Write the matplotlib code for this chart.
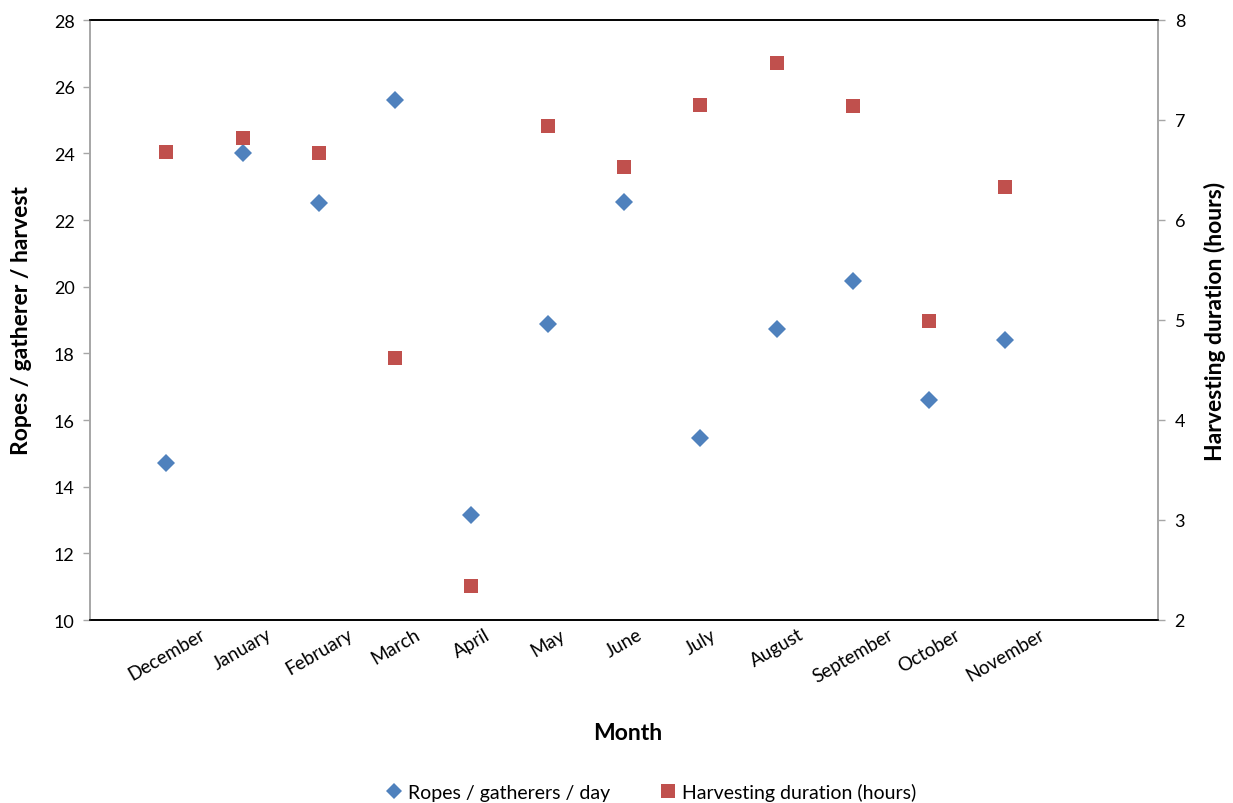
import numpy as np
import matplotlib.pyplot as plt
import matplotlib.transforms as mtransforms
from matplotlib.lines import Line2D

plt.rcParams['font.family'] = ['Lato', 'DejaVu Sans']

months = ['December', 'January', 'February', 'March', 'April', 'May',
          'June', 'July', 'August', 'September', 'October', 'November']
ropes_per_day = [14.7, 24.0, 22.5, 25.6, 13.15, 18.88,
                 22.55, 15.45, 18.73, 20.17, 16.6, 18.4]
harvest_hours = [6.68, 6.82, 6.67, 4.62, 2.34, 6.94,
                 6.53, 7.15, 7.57, 7.14, 4.99, 6.33]

BLUE = '#4F81BD'
RED = '#C0504D'
GREY = '#a6a6a6'

fig = plt.figure(figsize=(12.33, 8.04), dpi=100)
ax = fig.add_axes([90 / 1233, 1 - 621 / 804, (1158 - 90) / 1233, 600 / 804])
ax2 = ax.twinx()

x = np.arange(1, len(months) + 1)
ax.plot(x, ropes_per_day, linestyle='none', marker='D', markersize=9.5,
        color=BLUE, markeredgewidth=0)
ax2.plot(x, harvest_hours, linestyle='none', marker='s', markersize=10.5,
         color=RED, markeredgewidth=0)

ax.set_xlim(0, 14)
ax.set_ylim(10, 28)
ax.set_yticks(np.arange(10, 29, 2))
ax2.set_ylim(2, 8)
ax2.set_yticks(np.arange(2, 9, 1))

ax.set_xticks(x)
ax.set_xticklabels(months, rotation=30, ha='center', va='top', fontsize=13.5)
shift = mtransforms.ScaledTranslation(12 / 100, 0, fig.dpi_scale_trans)
for lbl in ax.get_xticklabels():
    lbl.set_transform(lbl.get_transform() + shift)
ax.tick_params(axis='x', length=0, pad=4)

for a in (ax, ax2):
    for side in ('left', 'right'):
        a.spines[side].set_color(GREY)
        a.spines[side].set_linewidth(1.2)
    for side in ('top', 'bottom'):
        a.spines[side].set_color('black')
        a.spines[side].set_linewidth(1.2)
ax.tick_params(axis='y', direction='out', length=5, width=1, color=GREY,
               labelsize=13, pad=6)
ax2.tick_params(axis='y', direction='out', length=5, width=1, color=GREY,
                labelsize=13, pad=7)

fig.text(22 / 1233, 1 - 321 / 804, 'Ropes / gatherer / harvest',
         rotation=90, ha='center', va='center', fontsize=16.5, fontweight='bold')
fig.text(1215 / 1233, 1 - 321 / 804, 'Harvesting duration (hours)',
         rotation=90, ha='center', va='center', fontsize=16.5, fontweight='bold')
fig.text(628 / 1233, 1 - 734 / 804, 'Month',
         ha='center', va='center', fontsize=16.5, fontweight='bold')

handles = [
    Line2D([], [], linestyle='none', marker='D', markersize=8,
           color=BLUE, markeredgewidth=0, label='Ropes / gatherers / day'),
    Line2D([], [], linestyle='none', marker='s', markersize=10,
           color=RED, markeredgewidth=0, label='Harvesting duration (hours)'),
]
fig.legend(handles=handles, loc='center', ncol=2, frameon=False,
           bbox_to_anchor=(651 / 1233, 1 - 793 / 804), fontsize=14,
           handlelength=0.8, handletextpad=0.3, columnspacing=2.6)

fig.savefig('out.png', dpi=100)
